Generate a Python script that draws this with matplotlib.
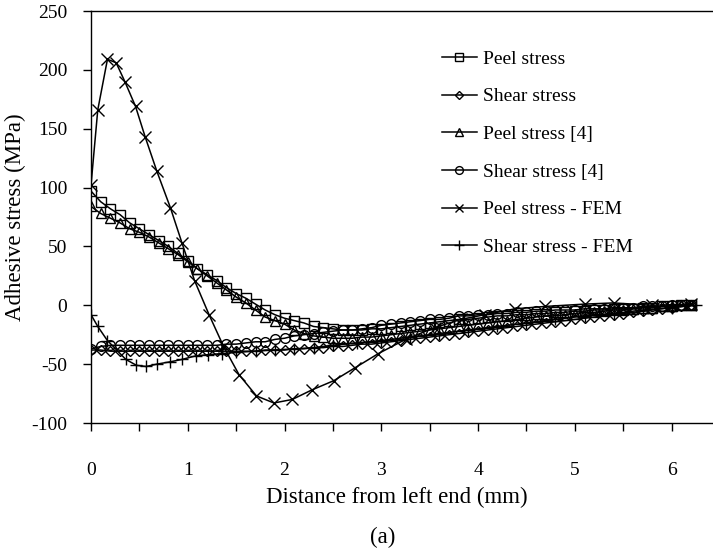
import matplotlib.pyplot as plt
from matplotlib.ticker import MultipleLocator

plt.rcParams['font.family'] = ['Liberation Serif', 'DejaVu Serif']
plt.rcParams['axes.unicode_minus'] = False

# analytical solutions, sampled every 0.1 mm
x_an = [0.0, 0.1, 0.2, 0.3, 0.4, 0.5, 0.6, 0.7, 0.8, 0.9,
        1.0, 1.1, 1.2, 1.3, 1.4, 1.5, 1.6, 1.7, 1.8, 1.9,
        2.0, 2.1, 2.2, 2.3, 2.4, 2.5, 2.6, 2.7, 2.8, 2.9,
        3.0, 3.1, 3.2, 3.3, 3.4, 3.5, 3.6, 3.7, 3.8, 3.9,
        4.0, 4.1, 4.2, 4.3, 4.4, 4.5, 4.6, 4.7, 4.8, 4.9,
        5.0, 5.1, 5.2, 5.3, 5.4, 5.5, 5.6, 5.7, 5.8, 5.9,
        6.0, 6.1, 6.2]

peel = [97, 88, 82, 77, 70, 65, 60, 55, 50, 44,
        38, 31, 26, 21, 15, 10, 6, 1, -4, -8,
        -11, -13, -15, -18, -19, -20, -21, -21, -21, -20,
        -20, -19, -18, -17, -16, -15, -14, -13, -12, -12,
        -11, -10, -9, -9, -8, -8, -7, -7, -6, -6,
        -5, -5, -4, -4, -3, -3, -3, -2, -2, -1,
        -1, 0, 0]

shear = [-38, -38, -39, -39, -39, -39, -39, -39, -39, -39,
         -39, -39, -39, -39, -39, -39, -39, -39, -38, -38,
         -38, -37, -37, -36, -36, -35, -35, -34, -33, -33,
         -32, -31, -30, -29, -28, -27, -26, -25, -24, -23,
         -22, -21, -20, -19, -18, -17, -16, -15, -14, -13,
         -12, -11, -10, -9, -8, -7, -6, -5, -4, -3,
         -2, -1, 0]

peel_ref = [84, 78, 74, 70, 65, 62, 58, 53, 48, 43,
            37, 31, 25, 19, 13, 7, 2, -4, -10, -13,
            -16, -21, -24, -26, -27, -28, -28, -28, -27, -27,
            -26, -25, -24, -23, -22, -21, -20, -19, -18, -17,
            -16, -15, -14, -13, -12, -11, -10, -9, -9, -8,
            -7, -6, -6, -5, -4, -4, -3, -2, -2, -1,
            -1, 0, 0]

shear_ref = [-37, -35, -34, -34, -34, -34, -34, -34, -34, -34,
             -34, -34, -34, -34, -33, -33, -32, -31, -31, -29,
             -28, -26, -25, -24, -23, -22, -21, -21, -20, -19,
             -17, -16, -15, -14, -13, -12, -12, -11, -9, -9,
             -8, -8, -7, -7, -6, -6, -5, -5, -4, -4,
             -4, -3, -3, -3, -2, -2, -2, -1, -1, -1,
             0, 0, 0]

# finite element results
x_fem_peel = [0.0, 0.07, 0.17, 0.26, 0.35, 0.46, 0.56, 0.68, 0.82, 0.94,
              1.07, 1.22, 1.37, 1.53, 1.71, 1.89, 2.08, 2.28, 2.51, 2.73,
              2.97, 3.25, 3.55, 3.82, 4.07, 4.38, 4.69, 5.1, 5.4, 5.8, 6.2]
peel_fem = [102, 166, 209, 206, 190, 169, 143, 114, 83, 53,
            21, -8, -35, -59, -77, -83, -80, -72, -64, -53,
            -41, -29, -19, -12, -8, -3, -1, 1, 2, 0, 1]

x_fem_shear = [0.0, 0.07, 0.17, 0.36, 0.47, 0.57, 0.68, 0.82, 0.94, 1.08,
               1.21, 1.35, 1.5, 1.7, 1.9, 2.1, 2.3, 2.5, 2.75, 3.0,
               3.3, 3.6, 3.9, 4.2, 4.5, 4.8, 5.1, 5.4, 5.7, 6.0, 6.25]
shear_fem = [-8, -18, -30, -46, -51, -52, -50, -48, -46, -43,
             -42, -41, -40, -39, -38, -37, -36, -34, -32, -30,
             -27, -24, -21, -18, -15, -12, -9, -7, -4, -2, 0]

fig = plt.figure(figsize=(7.13, 5.51), dpi=100)
ax = fig.add_axes([91/713, 1 - 423/551, 629/713, 412/551])

style = dict(color='black', lw=1.1, mfc='none', mec='black', mew=1.0)
ax.plot(x_an, peel, marker='s', ms=7.5, label='Peel stress', **style)
ax.plot(x_an, shear, marker='D', ms=5.5, label='Shear stress', **style)
ax.plot(x_an, peel_ref, marker='^', ms=7.5, label='Peel stress [4]', **style)
ax.plot(x_an, shear_ref, marker='o', ms=7, label='Shear stress [4]', **style)
ax.plot(x_fem_peel, peel_fem, marker='x', ms=8, label='Peel stress - FEM', **style)
ax.plot(x_fem_shear, shear_fem, marker='+', ms=9, label='Shear stress - FEM', **style)

ax.set_xlim(0, 6.5)
ax.set_ylim(-100, 250)
ax.xaxis.set_major_locator(MultipleLocator(1))
ax.xaxis.set_minor_locator(MultipleLocator(0.5))
ax.yaxis.set_major_locator(MultipleLocator(50))
ax.tick_params(axis='x', which='both', direction='out', length=6, width=1.0, pad=22, labelsize=14)
ax.tick_params(axis='y', direction='out', length=6, width=1.0, pad=11, labelsize=14)
for s in ax.spines.values():
    s.set_linewidth(1.0)

ax.set_xlabel('Distance from left end (mm)', fontsize=16.5, labelpad=6)
ax.xaxis.label.set_x((397 - 91) / 629)
ax.set_ylabel('Adhesive stress (MPa)', fontsize=16.5, labelpad=4)

ax.legend(loc='upper left', bbox_to_anchor=(0.558, 0.905), frameon=False,
          fontsize=14, numpoints=1, handlelength=1.8, handletextpad=0.3,
          labelspacing=1.03, borderpad=0, borderaxespad=0, markerscale=0.8)

fig.text(383/713, 1 - 537/551, '(a)', fontsize=16.5, ha='center', va='center')

fig.savefig('out.png', dpi=100)
